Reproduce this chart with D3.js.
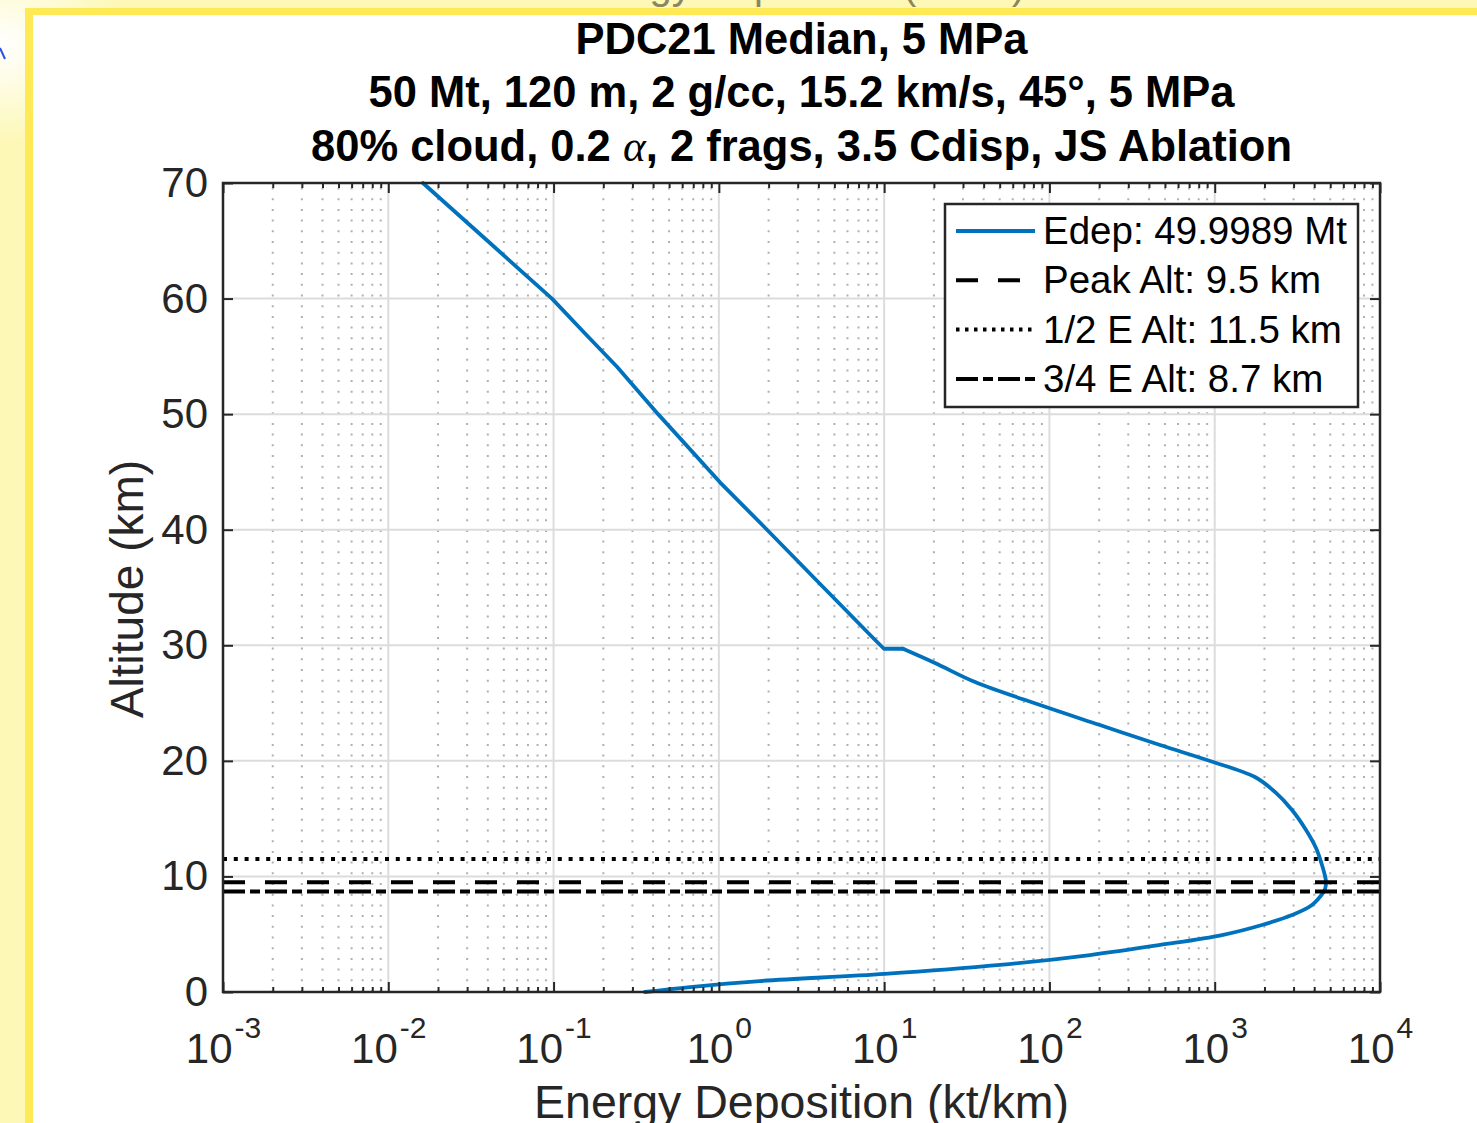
<!DOCTYPE html>
<html>
<head>
<meta charset="utf-8">
<script src="https://cdn.jsdelivr.net/npm/d3@7"></script>
<style>
  html, body { margin: 0; padding: 0; background: #fdf8b6; }
  svg { display: block; }
  text { font-family: "Liberation Sans", Arial, Helvetica, sans-serif; fill: #262626; }
</style>
</head>
<body>
<svg id="chart" width="1477" height="1123"></svg>
<script>
// ---------------- data ----------------
const altitudeKm = [70, 65, 60, 57, 54.1, 50, 44.1, 40, 35, 30.5, 29.7, 29.7, 28.47, 26.82, 24.83, 23.1, 21.37, 19.99, 18.6, 17.31, 15.75, 14.02, 12.46, 10.99, 10.2, 9.52, 8.9, 8.57, 7.53, 6.66, 5.8, 4.93, 4.07, 3.2, 2.34, 1.56, 0.95, 0.43, 0];
const energyKtPerKm = [0.0162, 0.0398, 0.0978, 0.1545, 0.2419, 0.429, 1.016, 1.956, 4.30, 8.76, 9.98, 13.0, 20.3, 35.5, 87.7, 202, 467, 937, 1752, 2315, 2935, 3568, 4101, 4457, 4620, 4713, 4650, 4520, 3878, 2935, 1932, 1107, 467, 176, 50.2, 10.1, 1.77, 0.669, 0.357];

const refAltitudes = [9.5, 11.5, 8.7];            // peak, 1/2 E, 3/4 E
const legendLabels = ["Edep: 49.9989 Mt", "Peak Alt: 9.5 km", "1/2 E Alt: 11.5 km", "3/4 E Alt: 8.7 km"];
const xTickValues = [1e-3, 1e-2, 1e-1, 1e0, 1e1, 1e2, 1e3, 1e4];
const xTickExponents = ["-3", "-2", "-1", "0", "1", "2", "3", "4"];
const yTickValues = [0, 10, 20, 30, 40, 50, 60, 70];
const titleLine1 = "PDC21 Median, 5 MPa";
const titleLine2 = "50 Mt, 120 m, 2 g/cc, 15.2 km/s, 45°, 5 MPa";
const titleLine3a = "80% cloud, 0.2 ";
const titleLine3alpha = "α";
const titleLine3b = ", 2 frags, 3.5 Cdisp, JS Ablation";
const xLabel = "Energy Deposition (kt/km)";
const yLabel = "Altitude (km)";
const cutFigureTitle = "Energy Deposition (kt/km)";

// ---------------- layout ----------------
const svg = d3.select("#chart");
const W = 1477, H = 1123;
const pL = 223, pR = 1380, pT = 183, pB = 992;
const axisColor = "#262626";
const blue = "#0072BD";

// frame background
const defs = svg.append("defs");
const rg = defs.append("radialGradient").attr("id", "corner").attr("cx", 0).attr("cy", 0.04).attr("r", 0.09);
rg.append("stop").attr("offset", "0%").attr("stop-color", "#ffffff").attr("stop-opacity", 1);
rg.append("stop").attr("offset", "100%").attr("stop-color", "#ffffff").attr("stop-opacity", 0);
svg.append("rect").attr("x", 0).attr("y", 0).attr("width", W).attr("height", H).attr("fill", "#fdf8b6");
svg.append("rect").attr("x", 0).attr("y", 0).attr("width", W).attr("height", H).attr("fill", "url(#corner)");
svg.append("text").attr("x", 795).attr("y", -1).attr("text-anchor", "middle")
  .style("font-size", "40px").style("fill", "#8a8660").text(cutFigureTitle);
svg.append("line").attr("x1", 0).attr("y1", 48).attr("x2", 5).attr("y2", 59)
  .attr("stroke", "#2f52e0").attr("stroke-width", 2);
svg.append("rect").attr("x", 25).attr("y", 8).attr("width", W).attr("height", H).attr("fill", "#ffea55");
svg.append("rect").attr("x", 33).attr("y", 15).attr("width", W).attr("height", H).attr("fill", "#ffffff");

// scales
const x = d3.scaleLog().domain([1e-3, 1e4]).range([pL, pR]);
const y = d3.scaleLinear().domain([0, 70]).range([pB, pT]);

// minor x values
const minorX = [];
for (let e = -3; e < 4; e++) for (let m = 2; m <= 9; m++) minorX.push(m * Math.pow(10, e));

const g = svg.append("g");

// minor grid (dotted)
g.append("g").selectAll("line").data(minorX).join("line")
  .attr("x1", d => x(d)).attr("x2", d => x(d)).attr("y1", pB).attr("y2", pT)
  .attr("stroke", "#b0b0b0").attr("stroke-width", 2).attr("stroke-dasharray", "2,8.7");

// major grid
g.append("g").selectAll("line").data(xTickValues.slice(1, -1)).join("line")
  .attr("x1", d => x(d)).attr("x2", d => x(d)).attr("y1", pB).attr("y2", pT)
  .attr("stroke", "#dcdcdc").attr("stroke-width", 2);
g.append("g").selectAll("line").data(yTickValues.slice(1, -1)).join("line")
  .attr("x1", pL).attr("x2", pR).attr("y1", d => y(d)).attr("y2", d => y(d))
  .attr("stroke", "#dcdcdc").attr("stroke-width", 2);

// curve: straight upper part, smooth lower part (split at the start of the flat step)
const pts = altitudeKm.map((a, i) => [energyKtPerKm[i], a]);
const splitIdx = 11;
const upper = pts.slice(0, splitIdx + 1);
const lower = pts.slice(splitIdx);
const lineLin = d3.line().x(d => x(d[0])).y(d => y(d[1]));
const lineSmooth = d3.line().x(d => x(d[0])).y(d => y(d[1])).curve(d3.curveCatmullRom.alpha(0.5));
[[upper, lineLin], [lower, lineSmooth]].forEach(([data, gen]) => {
  g.append("path").datum(data)
    .attr("fill", "none").attr("stroke", blue).attr("stroke-width", 3.8)
    .attr("stroke-linejoin", "round").attr("stroke-linecap", "round")
    .attr("d", gen);
});

// reference lines
const dashes = ["22,20", "4,6.8", "22,5,10,5"];
refAltitudes.forEach((a, i) => {
  g.append("line").attr("x1", pL).attr("x2", pR).attr("y1", y(a)).attr("y2", y(a))
    .attr("stroke", "#000").attr("stroke-width", 4).attr("stroke-dasharray", dashes[i]);
});

// axes
function styleAxis(sel) {
  sel.select(".domain").remove();
  sel.selectAll(".tick line").attr("stroke", axisColor).attr("stroke-width", 2);
}
const xb = g.append("g").attr("transform", `translate(0,${pB})`)
  .call(d3.axisBottom(x).tickValues(xTickValues).tickSizeInner(-10).tickSizeOuter(0).tickPadding(41).tickFormat((d, i) => "10"));
styleAxis(xb);
xb.selectAll(".tick text").each(function(d, i) {
  const t = d3.select(this);
  t.text("").style("font-size", "42px").attr("fill", axisColor);
  t.append("tspan").text("10");
  t.append("tspan").attr("dy", "-25").attr("dx", "2").style("font-size", "30px").text(xTickExponents[i]);
});
const xbm = g.append("g").attr("transform", `translate(0,${pB})`)
  .call(d3.axisBottom(x).tickValues(minorX).tickSizeInner(-5).tickSizeOuter(0).tickFormat(""));
styleAxis(xbm);
const xt = g.append("g").attr("transform", `translate(0,${pT})`)
  .call(d3.axisTop(x).tickValues(xTickValues).tickSizeInner(-10).tickSizeOuter(0).tickFormat(""));
styleAxis(xt);
const xtm = g.append("g").attr("transform", `translate(0,${pT})`)
  .call(d3.axisTop(x).tickValues(minorX).tickSizeInner(-5).tickSizeOuter(0).tickFormat(""));
styleAxis(xtm);
const yl = g.append("g").attr("transform", `translate(${pL},0)`)
  .call(d3.axisLeft(y).tickValues(yTickValues).tickSizeInner(-10).tickSizeOuter(0).tickPadding(15));
styleAxis(yl);
yl.selectAll(".tick text").style("font-size", "42px").attr("fill", axisColor);
const yr = g.append("g").attr("transform", `translate(${pR},0)`)
  .call(d3.axisRight(y).tickValues(yTickValues).tickSizeInner(-10).tickSizeOuter(0).tickFormat(""));
styleAxis(yr);

// box
g.append("rect").attr("x", pL).attr("y", pT).attr("width", pR - pL).attr("height", pB - pT)
  .attr("fill", "none").attr("stroke", axisColor).attr("stroke-width", 2.5);

// titles
const tcx = (pL + pR) / 2;
svg.append("text").attr("x", tcx).attr("y", 54).attr("text-anchor", "middle")
  .style("font-size", "43.5px").style("font-weight", "bold").style("fill", "#000").text(titleLine1);
svg.append("text").attr("x", tcx).attr("y", 107).attr("text-anchor", "middle")
  .style("font-size", "43.5px").style("font-weight", "bold").style("fill", "#000").text(titleLine2);
const t3 = svg.append("text").attr("x", tcx).attr("y", 161).attr("text-anchor", "middle")
  .style("font-size", "43.5px").style("font-weight", "bold").style("fill", "#000");
t3.append("tspan").text(titleLine3a);
t3.append("tspan").style("font-family", "'Liberation Serif', 'DejaVu Serif', serif").style("font-style", "italic").style("font-weight", "normal").text(titleLine3alpha);
t3.append("tspan").text(titleLine3b);

// axis labels
svg.append("text").attr("x", tcx).attr("y", 1118).attr("text-anchor", "middle")
  .style("font-size", "46.5px").text(xLabel);
svg.append("text").attr("transform", "translate(143,589) rotate(-90)").attr("text-anchor", "middle")
  .style("font-size", "46px").text(yLabel);

// legend
const lg = svg.append("g");
lg.append("rect").attr("x", 945).attr("y", 204).attr("width", 413).attr("height", 203)
  .attr("fill", "#fff").attr("stroke", axisColor).attr("stroke-width", 2.5);
const legendStyles = [
  { color: blue, dash: null, w: 3.8 },
  { color: "#000", dash: dashes[0], w: 4 },
  { color: "#000", dash: "3.5,5.5", w: 4 },
  { color: "#000", dash: dashes[2], w: 4 }
];
legendLabels.forEach((lab, i) => {
  const cy = 231 + i * 49.3;
  const s = legendStyles[i];
  const ln = lg.append("line").attr("x1", 956).attr("x2", 1035).attr("y1", cy).attr("y2", cy)
    .attr("stroke", s.color).attr("stroke-width", s.w);
  if (s.dash) ln.attr("stroke-dasharray", s.dash);
  lg.append("text").attr("x", 1043).attr("y", cy + 13).style("font-size", "38.5px").style("fill", "#000").text(lab);
});
</script>
</body>
</html>
